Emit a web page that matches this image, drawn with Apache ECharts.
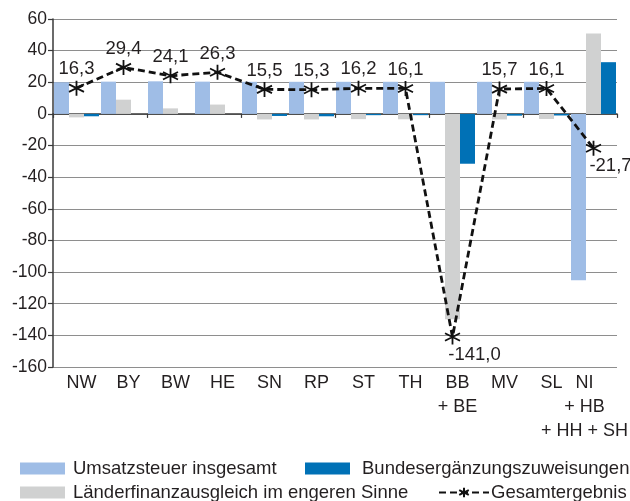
<!DOCTYPE html>
<html>
<head>
<meta charset="utf-8">
<script src="https://cdn.jsdelivr.net/npm/echarts@6/dist/echarts.min.js"></script>
<style>
  html, body { margin: 0; padding: 0; background: #ffffff; }
  #chart { width: 630px; height: 501px; }
</style>
</head>
<body>
<div id="chart"></div>
<script>
// Länder (bzw. zusammengelegte Länder)
const categories = ['NW', 'BY', 'BW', 'HE', 'SN', 'RP', 'ST', 'TH', 'BB\n+ BE', 'MV', 'SL', 'NI\n+ HB\n+ HH + SH'];

// Komponenten je Land
const umsatzsteuer = [20.0, 20.4, 20.6, 20.4, 20.3, 20.3, 20.3, 20.3, 20.3, 20.3, 20.3, -105.2];
const laenderfinanzausgleich = [-2.2, 9.0, 3.5, 5.9, -3.5, -3.5, -3.3, -3.4, -129.8, -3.5, -3.2, 50.8];
const bundesergaenzung = [-1.5, 0.0, 0.0, 0.0, -1.3, -1.5, -0.8, -0.8, -31.5, -1.1, -1.0, 32.7];

// Gesamtergebnis je Land
const gesamtergebnis = [16.3, 29.4, 24.1, 26.3, 15.5, 15.3, 16.2, 16.1, -141.0, 15.7, 16.1, -21.7];

// Werteachse
const yMin = -160, yMax = 60, yStep = 20;

const seriesNames = ['Umsatzsteuer insgesamt', 'Länderfinanzausgleich im engeren Sinne', 'Bundesergänzungszuweisungen', 'Gesamtergebnis'];

const FONT = '"Liberation Sans", Arial, Helvetica, sans-serif';
const TEXT = '#231f20';
const fmt = v => v.toFixed(1).replace('.', ',');

// six-armed asterisk marker
const asterisk = 'path://M0,-10L0,10M-8.66,-5L8.66,5M-8.66,5L8.66,-5';

// label placement for the points far below the zero line
const belowLabels = { 8: [22, 0], 11: [17, 0] };

const lineData = gesamtergebnis.map((v, i) => {
  if (belowLabels[i]) {
    return { value: v, label: { position: 'bottom', distance: 0, offset: belowLabels[i] } };
  }
  return v;
});

// horizontal shift of category labels
function catLabel(value, idx) {
  const style = idx === categories.length - 1 ? 'r' : 'l';
  return value.split('\n').map(s => '{' + style + '|' + s + '}').join('\n');
}

const legendText = { fontSize: 18.5, color: TEXT, fontFamily: FONT };

const chart = echarts.init(document.getElementById('chart'), null, { renderer: 'canvas' });

chart.setOption({
  animation: false,
  backgroundColor: '#ffffff',
  textStyle: { fontFamily: FONT, color: TEXT },
  grid: { left: 53, right: 13, top: 19, bottom: 134, containLabel: false, outerBoundsMode: 'none' },
  legend: [
    {
      data: [{ name: seriesNames[0], icon: 'rect' }], left: 15, top: 454, itemWidth: 45, itemHeight: 12, itemGap: 0,
      textStyle: Object.assign({ padding: [0, 0, 0, 3] }, legendText)
    },
    {
      data: [{ name: seriesNames[2], icon: 'rect' }], left: 300, top: 454, itemWidth: 45, itemHeight: 12, itemGap: 0,
      textStyle: Object.assign({ padding: [0, 0, 0, 7] }, legendText)
    },
    {
      data: [{ name: seriesNames[1], icon: 'rect' }], left: 15, top: 478, itemWidth: 45, itemHeight: 12, itemGap: 0,
      textStyle: Object.assign({ padding: [0, 0, 0, 3] }, legendText)
    },
    {
      data: [seriesNames[3]], left: 433, top: 478, itemWidth: 50, itemHeight: 12, itemGap: 0,
      textStyle: Object.assign({ padding: [0, 0, 0, -3] }, legendText)
    }
  ],
  xAxis: [
    {
      type: 'category',
      data: categories,
      position: 'bottom',
      axisLine: { show: false, onZero: false },
      axisTick: { show: false },
      axisLabel: {
        interval: 0,
        margin: 4,
        fontSize: 18,
        color: TEXT,
        fontFamily: FONT,
        lineHeight: 24,
        formatter: catLabel,
        rich: {
          l: { fontSize: 18, fontFamily: FONT, color: TEXT, lineHeight: 24, padding: [0, 0, 0, 10] },
          r: { fontSize: 18, fontFamily: FONT, color: TEXT, lineHeight: 24, padding: [0, 18, 0, 0] }
        }
      },
      splitLine: { show: false }
    },
    {
      type: 'category',
      data: categories,
      position: 'bottom',
      axisLine: { show: true, onZero: true, lineStyle: { color: '#3a3a3a', width: 1.5 } },
      axisTick: { show: true, length: 4, lineStyle: { color: '#3a3a3a', width: 1.2 } },
      axisLabel: { show: false },
      splitLine: { show: false }
    }
  ],
  yAxis: {
    type: 'value',
    min: yMin,
    max: yMax,
    interval: yStep,
    axisLine: { show: true, lineStyle: { color: '#3a3a3a', width: 1.5 } },
    axisTick: { show: true, length: 5, lineStyle: { color: '#3a3a3a', width: 1.2 } },
    axisLabel: { fontSize: 17.5, color: TEXT, fontFamily: FONT, margin: 6 },
    splitLine: { show: true, lineStyle: { color: '#8e8e8e', width: 1.2 } }
  },
  series: [
    {
      name: seriesNames[0], type: 'bar', xAxisIndex: 0, data: umsatzsteuer,
      barWidth: 15, barGap: '0%', itemStyle: { color: '#9fbde6' }
    },
    {
      name: seriesNames[1], type: 'bar', xAxisIndex: 0, data: laenderfinanzausgleich,
      barWidth: 15, barGap: '0%', itemStyle: { color: '#d0d1d1' }
    },
    {
      name: seriesNames[2], type: 'bar', xAxisIndex: 0, data: bundesergaenzung,
      barWidth: 15, barGap: '0%', itemStyle: { color: '#0071b6' }
    },
    {
      name: seriesNames[3], type: 'line', xAxisIndex: 0, data: lineData, z: 5,
      symbol: asterisk, symbolSize: 15,
      itemStyle: { color: 'rgba(0,0,0,0)', borderColor: '#111111', borderWidth: 1.8 },
      lineStyle: { color: '#111111', width: 2.8, type: [7, 4] },
      label: {
        show: true, position: 'top', distance: 1, fontSize: 18.5, color: TEXT, fontFamily: FONT,
        formatter: p => fmt(p.value)
      }
    }
  ]
});
</script>
</body>
</html>
